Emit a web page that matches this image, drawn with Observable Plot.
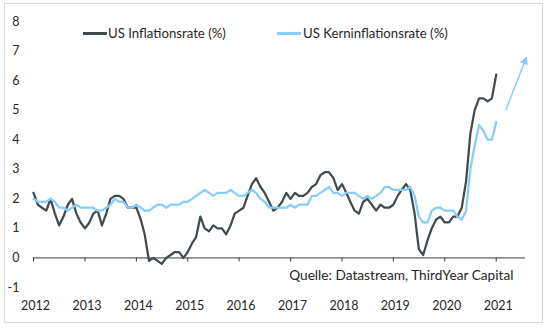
<!DOCTYPE html>
<html>
<head>
<meta charset="utf-8">
<script src="https://cdn.jsdelivr.net/npm/d3@7"></script>
<script src="https://cdn.jsdelivr.net/npm/@observablehq/plot@0.6"></script>
<style>
  html, body { margin: 0; padding: 0; background: #fff; }
  #wrap { position: relative; width: 546px; height: 328px; font-family: Lato, sans-serif; color: #262626; }
  #chart { position: absolute; left: 0; top: 0; }
  #border { position: absolute; left: 4px; top: 3px; width: 539px; height: 320px; border: 1px solid #d9d9d9; box-sizing: border-box; pointer-events: none; }
  .sw { position: absolute; height: 2.5px; width: 24px; }
  .lt { position: absolute; font-size: 13.2px; line-height: 14px; white-space: nowrap; }
</style>
</head>
<body>
<div id="wrap">
  <div id="chart"></div>
  <div id="border"></div>
  <div id="legend"></div>
</div>
<script>
// ---- Data (monthly, as plotted) ----
const inflation = [
  2.2, 1.8, 1.7,
  1.6, 2.0, 1.5, 1.1, 1.4, 1.8, 2.0, 1.5, 1.2, 1.0, 1.2, 1.5,
  1.6, 1.1, 1.5, 2.0, 2.1, 2.1, 2.0, 1.7, 1.7, 1.7, 1.3, 0.8,
  -0.1, 0.0, -0.1, -0.2, 0.0, 0.1, 0.2, 0.2, 0.0, 0.2, 0.5, 0.7,
  1.4, 1.0, 0.9, 1.1, 1.0, 1.0, 0.8, 1.1, 1.5, 1.6, 1.7, 2.1,
  2.5, 2.7, 2.4, 2.2, 1.9, 1.6, 1.7, 1.9, 2.2, 2.0, 2.2, 2.1,
  2.1, 2.2, 2.4, 2.5, 2.8, 2.9, 2.9, 2.7, 2.3, 2.5, 2.2, 1.9,
  1.6, 1.5, 1.9, 2.0, 1.8, 1.6, 1.8, 1.7, 1.7, 1.8, 2.1, 2.3,
  2.5, 2.3, 1.5, 0.3, 0.1, 0.6, 1.0, 1.3, 1.4, 1.2, 1.2, 1.4,
  1.4, 1.7, 2.6, 4.2, 5.0, 5.4, 5.4, 5.3, 5.4, 6.2
];
const coreInflation = [
  2.0, 1.9, 1.9,
  1.9, 2.0, 1.9, 1.7, 1.7, 1.6, 1.7, 1.8, 1.7, 1.7, 1.7, 1.7,
  1.6, 1.6, 1.7, 1.8, 2.0, 1.9, 1.9, 1.7, 1.7, 1.8, 1.7, 1.6,
  1.6, 1.7, 1.8, 1.8, 1.7, 1.8, 1.8, 1.8, 1.9, 1.9, 2.0, 2.1,
  2.2, 2.3, 2.2, 2.1, 2.2, 2.2, 2.2, 2.3, 2.2, 2.1, 2.1, 2.2,
  2.3, 2.2, 2.0, 1.9, 1.7, 1.7, 1.7, 1.7, 1.7, 1.8, 1.7, 1.8,
  1.8, 1.8, 2.1, 2.1, 2.2, 2.3, 2.4, 2.2, 2.2, 2.1, 2.2, 2.2,
  2.2, 2.1, 2.0, 2.1, 2.0, 2.1, 2.2, 2.4, 2.4, 2.3, 2.3, 2.3,
  2.3, 2.4, 2.1, 1.4, 1.2, 1.2, 1.6, 1.7, 1.7, 1.6, 1.6, 1.6,
  1.4, 1.3, 1.6, 3.0, 3.8, 4.5, 4.3, 4.0, 4.0, 4.6
];
const firstMonth = [2012, 0];               // first plotted month (year, monthIndex)
const yearLabels = [2012, 2013, 2014, 2015, 2016, 2017, 2018, 2019, 2020, 2021];
const yTickValues = [-1, 0, 1, 2, 3, 4, 5, 6, 7, 8];
const seriesNames = ["US Inflationsrate (%)", "US Kerninflationsrate (%)"];
const seriesColors = ["#404b50", "#86cdfb"];
const sourceNote = "Quelle: Datastream, ThirdYear Capital";
const trendArrow = [{x1: "2021-03-10", y1: 5.0, x2: "2021-08-04", y2: 6.8}];

// ---- Build tables ----
const monthDate = i => new Date(Date.UTC(firstMonth[0], firstMonth[1] + i, 1));
const rows = [
  ...inflation.map((v, i) => ({date: monthDate(i), value: v, series: seriesNames[0]})),
  ...coreInflation.map((v, i) => ({date: monthDate(i), value: v, series: seriesNames[1]}))
];
const yearTicks = yearLabels.map(y => new Date(Date.UTC(y, 0, 1)));
const arrows = trendArrow.map(a => ({x1: new Date(a.x1), y1: a.y1, x2: new Date(a.x2), y2: a.y2}));

const chart = Plot.plot({
  width: 546,
  height: 328,
  marginLeft: 33,
  marginRight: 21,
  marginTop: 21,
  marginBottom: 41,
  style: {fontFamily: "Lato, sans-serif", fontSize: "12.5px", color: "#262626", background: "transparent"},
  x: {type: "utc", domain: [new Date(Date.UTC(2012, 0, 1)), new Date(Date.UTC(2021, 6, 28))]},
  y: {domain: [-1, 8]},
  marks: [
    Plot.axisY({ticks: yTickValues, tickSize: 0, tickPadding: 14, tickFormat: d => String(d), label: null}),
    Plot.axisX({ticks: yearTicks, tickSize: 0, tickPadding: 14, tickFormat: d => String(d.getUTCFullYear()), label: null, dx: 2}),
    Plot.ruleY([0], {stroke: "#3a3a3a", strokeWidth: 1}),
    Plot.ruleX(yearTicks, {x: d => d, y1: 0, y2: 0, insetBottom: -4, stroke: "#3a3a3a", strokeWidth: 1}),
    Plot.line(rows.filter(d => d.series === seriesNames[0]), {x: "date", y: "value", stroke: seriesColors[0], strokeWidth: 2.25}),
    Plot.line(rows.filter(d => d.series === seriesNames[1]), {x: "date", y: "value", stroke: seriesColors[1], strokeWidth: 2.25}),
    Plot.link(arrows, {x1: "x1", y1: "y1", x2: "x2", y2: "y2", stroke: seriesColors[1], strokeWidth: 1.5}),
    Plot.dot(arrows, {x: "x2", y: "y2", symbol: "triangle", r: 3.2, fill: seriesColors[1], stroke: "none", rotate: 21, dx: -1.7, dy: 4.4}),
    Plot.text([sourceNote], {frameAnchor: "bottom-right", textAnchor: "end", lineAnchor: "middle", dx: -12, dy: -12, fill: "#262626", fontSize: 13.7})
  ]
});
document.getElementById("chart").appendChild(chart);

// ---- Legend (overlay) ----
const legend = document.getElementById("legend");
const legendPos = [{line: 83, text: 108}, {line: 277, text: 303}];
seriesNames.forEach((name, i) => {
  const sw = document.createElement("div");
  sw.className = "sw";
  sw.style.left = legendPos[i].line + "px";
  sw.style.top = "32px";
  sw.style.background = seriesColors[i];
  legend.appendChild(sw);
  const t = document.createElement("div");
  t.className = "lt";
  t.style.left = legendPos[i].text + "px";
  t.style.top = "26px";
  t.textContent = name;
  legend.appendChild(t);
});
</script>
</body>
</html>
